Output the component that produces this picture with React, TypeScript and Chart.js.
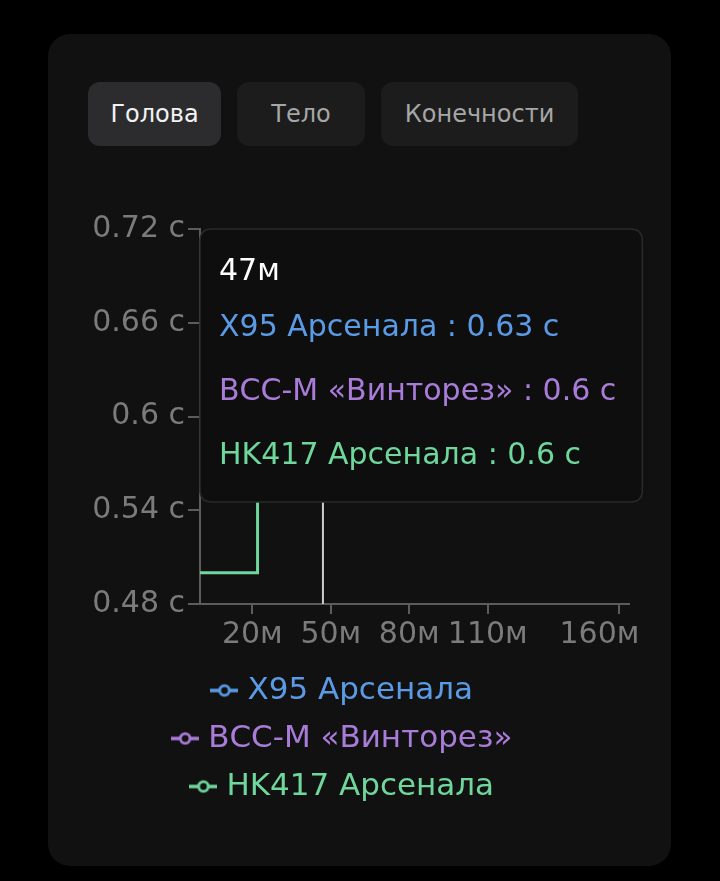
import React, { useEffect, useRef } from 'react';
import { Chart, registerables, Tooltip } from 'chart.js';

Chart.register(...registerables);
Chart.defaults.font.family = "'DejaVu Sans', sans-serif";

// вкладки частей тела
const tabs = ['Голова', 'Тело', 'Конечности'];
const activeTab = 0;

// дистанция под курсором
const hoverDistance = 47;

const xTicks = [20, 50, 80, 110, 160];
const yTicks = [0.48, 0.54, 0.6, 0.66, 0.72];

const seriesLabels = ['X95 Арсенала', 'ВСС-М «Винторез»', 'HK417 Арсенала'];
const seriesColors = ['#5b9be6', '#a87cd8', '#6fd69c'];

// время до убийства (с) по дистанции (м)
const x95Distances = [0, 30, 80, 110, 164];
const x95Ttk = [0.6, 0.63, 0.66, 0.69, 0.69];
const vssDistances = [0, 40, 80, 164];
const vssTtk = [0.56, 0.6, 0.66, 0.66];
const hk417Distances = [0, 22, 110, 164];
const hk417Ttk = [0.5, 0.6, 0.63, 0.63];

const seriesDistances = [x95Distances, vssDistances, hk417Distances];
const seriesTtk = [x95Ttk, vssTtk, hk417Ttk];

const CARD_BG = '#111111';

(Tooltip.positioners as any).chartTopLeft = function () {
    const area = this.chart.chartArea;
    return { x: area.left + 12, y: area.top };
};

const makeIcon = (color: string) => {
    const c = document.createElement('canvas');
    c.width = 28;
    c.height = 16;
    const g = c.getContext('2d');
    if (g) {
        g.strokeStyle = color;
        g.lineWidth = 3.5;
        g.beginPath();
        g.moveTo(0, 8);
        g.lineTo(28, 8);
        g.stroke();
        g.beginPath();
        g.arc(14, 8, 4.8, 0, Math.PI * 2);
        g.fillStyle = CARD_BG;
        g.fill();
        g.lineWidth = 2.8;
        g.stroke();
    }
    return c;
};

const hoverLine = {
    id: 'hoverLine',
    afterDatasetsDraw(chart: any) {
        const { ctx, chartArea, scales } = chart;
        const x = scales.x.getPixelForValue(hoverDistance);
        ctx.save();
        ctx.strokeStyle = '#cccccc';
        ctx.lineWidth = 2;
        ctx.beginPath();
        ctx.moveTo(x, chartArea.top);
        ctx.lineTo(x, chartArea.bottom);
        ctx.stroke();
        ctx.restore();
    },
};

const TtkChart: React.FC = () => {
    const chartRef = useRef<HTMLCanvasElement | null>(null);

    useEffect(() => {
        if (!chartRef.current) return;
        const icons = seriesColors.map(makeIcon);

        const chart = new Chart(chartRef.current, {
            type: 'line',
            data: {
                datasets: seriesLabels.map((label, i) => ({
                    label,
                    data: seriesDistances[i].map((x, j) => ({ x, y: seriesTtk[i][j] })),
                    borderColor: seriesColors[i],
                    backgroundColor: seriesColors[i],
                    borderWidth: 3,
                    stepped: true,
                    fill: false,
                    pointRadius: 0,
                    pointHoverRadius: 0,
                })),
            },
            options: {
                responsive: true,
                maintainAspectRatio: false,
                animation: false,
                events: [],
                layout: { padding: { left: 13, right: 60, top: 39, bottom: 0 } },
                scales: {
                    x: {
                        type: 'linear',
                        bounds: 'data',
                        afterBuildTicks: (scale: any) => {
                            scale.ticks = xTicks.map((value) => ({ value }));
                        },
                        afterFit: (scale: any) => {
                            scale.height = 54;
                        },
                        grid: { drawOnChartArea: false, tickLength: 10, color: '#5c5c5c', lineWidth: 2 },
                        border: { color: '#5c5c5c', width: 2 },
                        ticks: {
                            color: '#7b7b7b',
                            font: { size: 30 },
                            padding: 3,
                            maxRotation: 0,
                            autoSkip: false,
                            // последняя подпись прижата влево, как у края карточки
                            callback: (v: any, i: number) =>
                                i === xTicks.length - 1 ? `${v}м\u00a0\u00a0\u00a0\u00a0` : `${v}м`,
                        },
                    },
                    y: {
                        min: yTicks[0],
                        max: yTicks[yTicks.length - 1],
                        afterBuildTicks: (scale: any) => {
                            scale.ticks = yTicks.map((value) => ({ value }));
                        },
                        afterFit: (scale: any) => {
                            scale.width = 139;
                        },
                        grid: { drawOnChartArea: false, tickLength: 12, color: '#5c5c5c', lineWidth: 2 },
                        border: { color: '#5c5c5c', width: 2 },
                        ticks: {
                            color: '#7b7b7b',
                            font: { size: 30 },
                            padding: 3,
                            autoSkip: false,
                            callback: (v: any) => `${Number(Number(v).toFixed(2))} с`,
                        },
                    },
                },
                plugins: {
                    legend: {
                        position: 'bottom',
                        labels: {
                            usePointStyle: true,
                            pointStyleWidth: 15,
                            padding: 17,
                            font: { size: 31 },
                            generateLabels: (c: any) =>
                                Chart.defaults.plugins.legend.labels.generateLabels(c).map((l: any) => ({
                                    ...l,
                                    fontColor: seriesColors[l.datasetIndex],
                                    pointStyle: icons[l.datasetIndex],
                                })),
                        },
                    },
                    tooltip: {
                        position: 'chartTopLeft' as any,
                        xAlign: 'left',
                        yAlign: 'top',
                        caretSize: 0,
                        caretPadding: 0,
                        backgroundColor: '#0e0e0e',
                        borderColor: '#2a2a2a',
                        borderWidth: 1.5,
                        cornerRadius: 12,
                        displayColors: false,
                        padding: { left: 19, right: 26, top: 25, bottom: 28 },
                        titleColor: '#ffffff',
                        titleFont: { size: 30, weight: 'normal' },
                        titleMarginBottom: 20,
                        bodyFont: { size: 30 },
                        bodySpacing: 28,
                        callbacks: {
                            title: () => `${hoverDistance}м`,
                            label: (ctx: any) => `${ctx.dataset.label} : ${ctx.parsed.y} с`,
                            labelTextColor: (ctx: any) => seriesColors[ctx.datasetIndex],
                        },
                    },
                },
            },
            plugins: [hoverLine],
        } as any);

        // точка каждой серии, действующая на дистанции курсора
        const active = seriesDistances.map((d, i) => {
            let index = 0;
            d.forEach((x, j) => {
                if (x <= hoverDistance) index = j;
            });
            return { datasetIndex: i, index };
        });
        chart.setActiveElements(active);
        chart.tooltip?.setActiveElements(active, {
            x: chart.scales.x.getPixelForValue(hoverDistance),
            y: chart.chartArea.top,
        });
        chart.update();

        return () => chart.destroy();
    }, []);

    return (
        <div style={{ position: 'absolute', left: 0, top: 156, width: 641, height: 622 }}>
            <canvas ref={chartRef}></canvas>
        </div>
    );
};

const tabWidths = [133, 128, 197];

const App: React.FC = () => {
    return (
        <div style={{ position: 'fixed', inset: 0, background: '#000', overflow: 'hidden' }}>
            <div
                style={{
                    position: 'absolute',
                    left: 48,
                    top: 34,
                    width: 623,
                    height: 832,
                    borderRadius: 22,
                    background: CARD_BG,
                    fontFamily: "'DejaVu Sans', sans-serif",
                }}
            >
                {/* вкладки */}
                <div style={{ position: 'absolute', left: 40, top: 48, display: 'flex', gap: 16 }}>
                    {tabs.map((t, i) => (
                        <div
                            key={t}
                            style={{
                                width: tabWidths[i],
                                height: 64,
                                borderRadius: 12,
                                background: i === activeTab ? '#2c2c2f' : '#1c1c1c',
                                color: i === activeTab ? '#f2f2f2' : '#a6a6a6',
                                fontSize: 24,
                                display: 'flex',
                                alignItems: 'center',
                                justifyContent: 'center',
                            }}
                        >
                            {t}
                        </div>
                    ))}
                </div>
                <TtkChart />
            </div>
        </div>
    );
};

export default App;
